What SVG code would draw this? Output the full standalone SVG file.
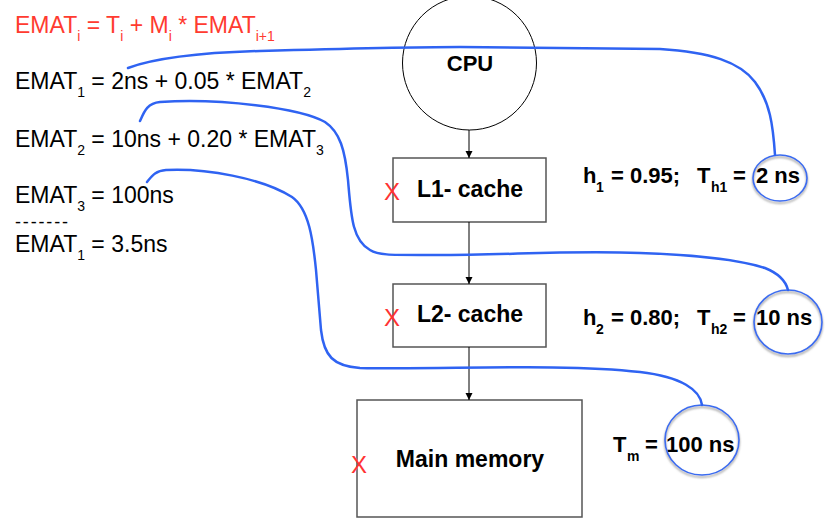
<svg xmlns="http://www.w3.org/2000/svg" width="831" height="521" viewBox="0 0 831 521">
<style>
.eq{font-family:"Liberation Sans",Arial,sans-serif;font-size:23px;fill:#000}
.red{fill:#ff3b30}
.sub{font-size:14px}
.dash{font-size:18px}
.lbl{font-family:"Liberation Sans",Arial,sans-serif;font-size:22px;font-weight:bold;fill:#000}
.node{font-size:23px}
.lsub{font-size:14px}
.box{fill:#fff;stroke:#555;stroke-width:1.5}
.x{font-family:"Liberation Sans",Arial,sans-serif;font-size:24px;fill:#ff3333}
.conn{stroke:#000;stroke-width:1;fill:none}
.blue{stroke:#2f63f2;stroke-width:2.5;fill:none;stroke-linecap:round}
.ring{stroke:#3a6cf0;stroke-width:1.6;fill:none}
</style>
<defs>
<marker id="ah" viewBox="0 0 10 10" refX="10" refY="5" markerWidth="7" markerHeight="9" markerUnits="userSpaceOnUse" orient="auto">
<path d="M0,0 L10,5 L0,10 Z" fill="#000"/>
</marker>
<filter id="sh" x="-20%" y="-20%" width="140%" height="150%">
<feDropShadow dx="0" dy="2" stdDeviation="1.2" flood-color="#777" flood-opacity="0.8"/>
</filter>
</defs>

<g id="equations">
<text class="eq red" x="15" y="33">EMAT<tspan class="sub" dy="8">i</tspan><tspan dy="-8"> = T</tspan><tspan class="sub" dy="8">i</tspan><tspan dy="-8"> + M</tspan><tspan class="sub" dy="8">i</tspan><tspan dy="-8"> * EMAT</tspan><tspan class="sub" dy="8">i+1</tspan></text>
<text class="eq" x="15" y="89">EMAT<tspan class="sub" dy="8">1</tspan><tspan dy="-8"> = 2ns + 0.05 * EMAT</tspan><tspan class="sub" dy="8">2</tspan></text>
<text class="eq" x="15" y="147">EMAT<tspan class="sub" dy="8">2</tspan><tspan dy="-8"> = 10ns + 0.20 * EMAT</tspan><tspan class="sub" dy="8">3</tspan></text>
<text class="eq" x="15" y="203">EMAT<tspan class="sub" dy="8">3</tspan><tspan dy="-8"> = 100ns</tspan></text>
<text class="eq dash" x="15" y="228" textLength="53" lengthAdjust="spacing">-------</text>
<text class="eq" x="15" y="252">EMAT<tspan class="sub" dy="8">1</tspan><tspan dy="-8"> = 3.5ns</tspan></text>
</g>

<g id="cpu">
<circle cx="469.5" cy="63" r="67" fill="#fff" stroke="#000" stroke-width="1"/>
<text class="lbl" x="470" y="71" text-anchor="middle">CPU</text>
</g>

<g id="l1">
<rect class="box" x="393" y="158" width="153" height="64"/>
<text class="lbl node" x="470" y="197" text-anchor="middle">L1- cache</text>
<text class="x" x="392" y="200" text-anchor="middle">X</text>
</g>

<g id="l2">
<rect class="box" x="393" y="284" width="153" height="63"/>
<text class="lbl node" x="470" y="322" text-anchor="middle">L2- cache</text>
<text class="x" x="392" y="326" text-anchor="middle">X</text>
</g>

<g id="mainmem">
<rect class="box" x="357" y="400" width="225" height="117"/>
<text class="lbl node" x="470" y="467" text-anchor="middle">Main memory</text>
<text class="x" x="359" y="473" text-anchor="middle">X</text>
</g>

<g id="labels">
<text class="lbl" x="583" y="183">h<tspan class="lsub" x="596" y="192">1</tspan><tspan x="611" y="183">= 0.95;</tspan><tspan x="697" y="183">T</tspan><tspan class="lsub" x="711" y="192">h1</tspan><tspan x="733" y="183">=</tspan><tspan x="756" y="183">2 ns</tspan></text>
<text class="lbl" x="583" y="325">h<tspan class="lsub" x="596" y="334">2</tspan><tspan x="611" y="325">= 0.80;</tspan><tspan x="697" y="325">T</tspan><tspan class="lsub" x="711" y="334">h2</tspan><tspan x="733" y="325">=</tspan><tspan x="756" y="325">10 ns</tspan></text>
<text class="lbl" x="613" y="452">T<tspan class="lsub" x="627" y="461">m</tspan><tspan x="645" y="452">=</tspan><tspan x="666" y="452">100 ns</tspan></text>
</g>

<g id="connectors">
<line class="conn" x1="469" y1="130" x2="469" y2="158" marker-end="url(#ah)"/>
<line class="conn" x1="469" y1="222" x2="469" y2="284" marker-end="url(#ah)"/>
<line class="conn" x1="469" y1="347" x2="469" y2="400" marker-end="url(#ah)"/>
</g>

<g id="annotations">
<ellipse class="ring" cx="780" cy="178" rx="27" ry="23" filter="url(#sh)"/>
<ellipse class="ring" cx="788" cy="322" rx="34" ry="32" filter="url(#sh)"/>
<ellipse class="ring" cx="702" cy="440" rx="37" ry="35" filter="url(#sh)"/>
<path class="blue" d="M128,68 C150,60 190,53 260,51 C330,49 400,47 460,47 L660,49 C710,52 740,62 755,82 C770,102 773,125 775,155"/>
<path class="blue" d="M140,121 C144,112 147,103 160,102 C220,98 300,108 325,122 C340,132 345,150 348,180 C351,215 352,240 370,250 C378,255 390,255 420,255 C500,256 560,250 640,253 C700,255 740,260 765,268 C780,274 786,282 788,290"/>
<path class="blue" d="M147,182 C152,176 155,171 166,170 C205,168 262,178 292,197 C309,209 313,240 316,270 L321,330 C324,356 333,366 360,368 C440,370 560,363 640,372 C682,377 700,390 702,405"/>
</g>
</svg>
